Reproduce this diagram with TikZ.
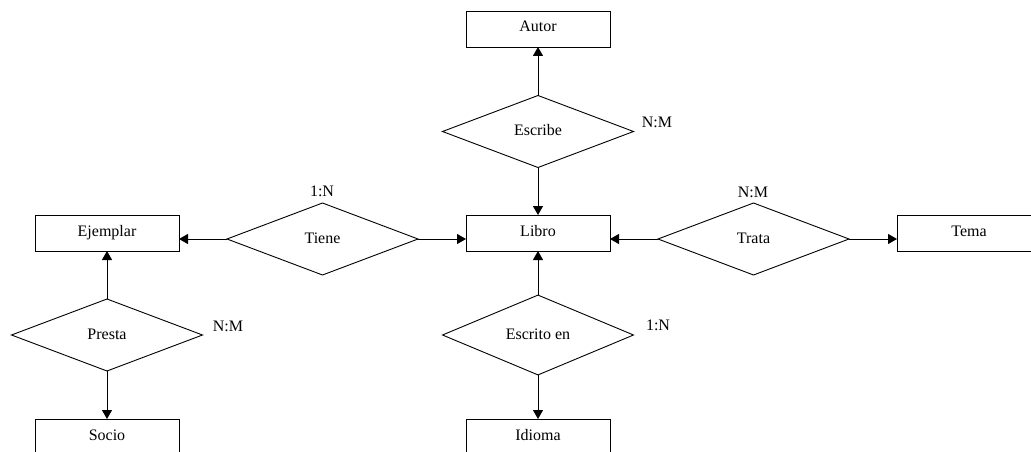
\documentclass[tikz,border=0pt]{standalone}
\usepackage{fontspec}
\setmainfont{Liberation Serif}
\usetikzlibrary{shapes.geometric,arrows.meta}
\tikzset{
  entity/.style={draw, line width=0.9pt, rectangle, minimum width=144pt, minimum height=36pt, inner sep=0pt, outer sep=0pt, font=\fontsize{16}{18}\selectfont, text height=11pt, text depth=5pt},
  rel/.style={draw, line width=0.9pt, diamond, minimum width=191pt, minimum height=72pt, inner sep=0pt, outer sep=0pt, font=\fontsize{16}{18}\selectfont, text height=12pt, text depth=3.4pt},
  card/.style={font=\fontsize{16}{18}\selectfont, inner sep=0pt},
  conn/.style={line width=0.9pt, -{Triangle[length=9pt,width=10pt]}}
}
\begin{document}
\begin{tikzpicture}[x=1pt,y=-1pt]
\useasboundingbox (0,0) rectangle (1031,452);
\clip (0,0) rectangle (1031,452);
% entities
\node[entity] (autor) at (538,29) {Autor};
\node[entity] (libro) at (538,233) {Libro};
\node[entity] (ejemplar) at (107,233) {Ejemplar};
\node[entity] (tema) at (969,233) {Tema};
\node[entity] (socio) at (107,437) {Socio};
\node[entity] (idioma) at (538,437) {Idioma};
% relationships
\node[rel] (escribe) at (538,131.5) {Escribe};
\node[rel] (tiene) at (322.5,239) {Tiene};
\node[rel] (trata) at (753.5,239) {Trata};
\node[rel] (presta) at (107,335) {Presta};
\node[rel] (escrito) at (538,335) {Escrito en};
% cardinalities
\node[card] (c1) at (657,122) {N:M};
\node[card] (c2) at (322,191) {1:N};
\node[card] (c3) at (753,192) {N:M};
\node[card] (c4) at (228,326) {N:M};
\node[card] (c5) at (658,325) {1:N};
% connectors
\draw[conn] (escribe.north) -- (autor.south);
\draw[conn] (escribe.south) -- (libro.north);
\draw[conn] (tiene.west) -- (tiene.west -| ejemplar.east);
\draw[conn] (tiene.east) -- (tiene.east -| libro.west);
\draw[conn] (trata.west) -- (trata.west -| libro.east);
\draw[conn] (trata.east) -- (trata.east -| tema.west);
\draw[conn] (escrito.north) -- (libro.south);
\draw[conn] (escrito.south) -- (idioma.north);
\draw[conn] (presta.north) -- (ejemplar.south);
\draw[conn] (presta.south) -- (socio.north);
\end{tikzpicture}
\end{document}
